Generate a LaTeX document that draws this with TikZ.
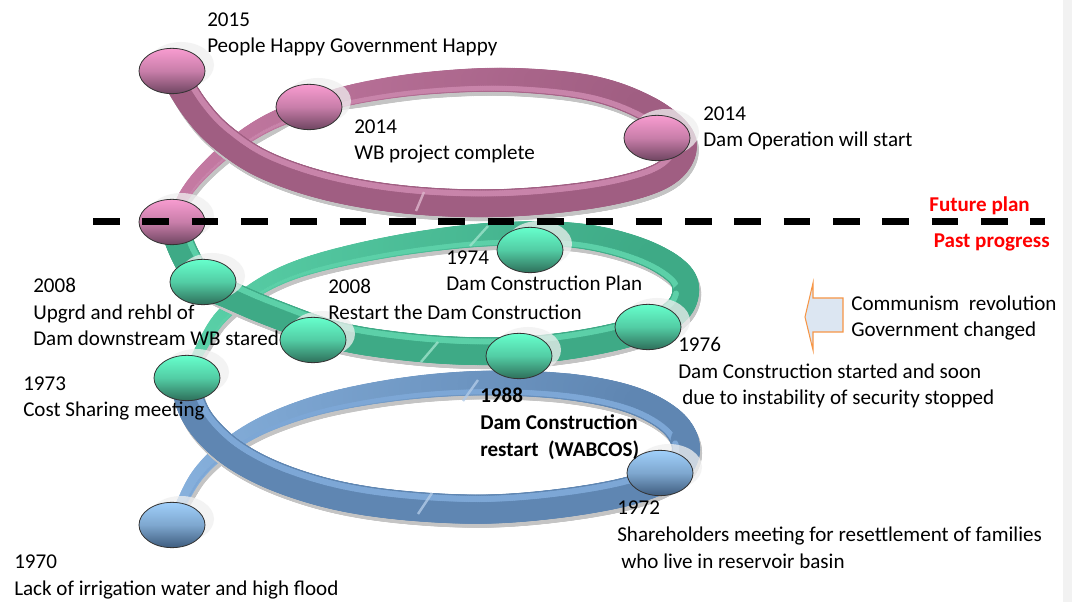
\documentclass[tikz,border=0pt]{standalone}
\usepackage{fontspec}
\setmainfont{Carlito}
\usetikzlibrary{decorations.markings,shapes.geometric}

\definecolor{pinkS}{HTML}{C87DA6}
\definecolor{pinkE}{HTML}{A05E82}
\definecolor{pinkL}{HTML}{C884AA}
\definecolor{pinkTop}{HTML}{F89CD0}
\definecolor{pinkBot}{HTML}{6F4561}
\definecolor{greenS}{HTML}{5CD4AB}
\definecolor{greenE}{HTML}{3EAA86}
\definecolor{greenL}{HTML}{5CD0A8}
\definecolor{greenTop}{HTML}{66FFCC}
\definecolor{greenBot}{HTML}{2E6F5A}
\definecolor{blueS}{HTML}{8AB4E0}
\definecolor{blueE}{HTML}{5F86B2}
\definecolor{blueL}{HTML}{7DA7D6}
\definecolor{blueTop}{HTML}{A0CFFA}
\definecolor{blueBot}{HTML}{3E5C7E}
\definecolor{bandshadow}{HTML}{C4C4C4}
\definecolor{arrowfill}{HTML}{DCE6F2}
\definecolor{arrowline}{HTML}{F79646}

\newcount\bandcount
\tikzset{
  bandpass/.style n args={8}{decorate,decoration={markings,
    mark=between positions #5 and #6 step 1.4pt with {%
      \global\advance\bandcount by 1
      \pgfmathsetmacro\bandf{#5+\the\bandcount*1.4/880}%
      \pgfmathsetmacro\bandr{#4-(#4-#3)*(1-\bandf)^4}%
      \pgfmathsetmacro\bandq{#7*\bandr}%
      \pgfmathsetmacro\bandy{#8*\bandr}%
      \pgfmathtruncatemacro\bandp{max(0,min(100,100-220*\bandf))}%
      \fill[#1!\bandp!#2] (0pt,\bandy pt) circle (\bandq pt);}}},
  disk/.style={ellipse, draw=black!80, line width=.6pt, minimum width=49.5pt,
    minimum height=34pt, inner sep=0pt},
  pinkdisk/.style={disk, top color=pinkTop, bottom color=pinkBot, middle color=pinkTop!65!pinkBot},
  greendisk/.style={disk, top color=greenTop, bottom color=greenBot, middle color=greenTop!65!greenBot},
  bluedisk/.style={disk, top color=blueTop, bottom color=blueBot, middle color=blueTop!65!blueBot},
  halo/.style={fill=gray!12, opacity=.75},
  seam/.style={line width=1.8pt, opacity=.8},
  event/.style={anchor=base west, inner sep=0pt, align=left,
    font=\fontsize{15.8}{20}\selectfont},
  redtag/.style={inner sep=0pt, text=red, font=\fontsize{15.8}{20}\selectfont\bfseries},
  splitline/.style={line width=5.25pt, dash pattern=on 20pt off 17pt},
}

% one turn of the spiral: shadow, body, inner edge
\newcommand\drawloop[5]{%
  \foreach \from/\to in {0.004/#4,#4/0.996} {
    \global\bandcount=0
    \path[shift={(2,4)}, bandpass={bandshadow}{bandshadow}{#2}{#3}{\from}{\to}{1}{0}] #5;
    \global\bandcount=0
    \path[bandpass={#1S}{#1E}{#2}{#3}{\from}{\to}{1}{0}] #5;
    \global\bandcount=0
    \path[bandpass={#1L}{#1L}{#2}{#3}{\from}{\to}{.22}{-.7}] #5;
  }}

\begin{document}
\begin{tikzpicture}[x=0.75pt,y=-0.75pt]
\useasboundingbox[fill=white] (0,0) rectangle (1072,602);
\fill[gray!10] (1063,0) rectangle (1072,602);

\coordinate (c2015) at (172,71);
\coordinate (cWB) at (309,107);
\coordinate (cOp) at (657,138);
\coordinate (cJ) at (172,222);
\coordinate (c1974) at (530,250);
\coordinate (cUp) at (203,282);
\coordinate (cRe) at (313,340);
\coordinate (c1976) at (648,327);
\coordinate (c1988) at (519,356);
\coordinate (c1973) at (187,378);
\coordinate (c1972) at (660,473);
\coordinate (c1970) at (172,525);

\drawloop{blue}{3.4}{11}{0.5}{plot[smooth,tension=.6] coordinates {(c1970) (183,500) (200,472)
  (228,446) (270,422) (330,402) (410,388) (490,383) (570,387) (632,400) (672,422) (686,448)
  (674,471) (636,489) (570,502) (490,509) (410,506) (340,496) (280,478) (235,455) (205,428)
  (190,402) (c1973)}}
\drawloop{green}{3.4}{10.5}{0.5}{plot[smooth,tension=.6] coordinates {(c1973) (200,350) (220,318)
  (250,293) (290,272) (345,256) (420,242) (500,234) (580,236) (643,252) (681,276) (683,302)
  (660,322) (610,338) (540,349) (470,351) (400,346) (335,335) (270,312) (230,295) (cUp)
  (185,255) (cJ)}}
\drawloop{pink}{3.6}{10.5}{0.5}{plot[smooth,tension=.6] coordinates {(cJ) (184,196) (203,172)
  (232,146) (268,123) (cWB) (360,93) (430,83) (510,80) (590,88) (646,108) (680,135) (679,160)
  (652,180) (590,195) (500,203) (410,200) (330,187) (265,165) (222,137) (195,108) (c2015)}}

\draw[seam, blueL!60!white] (463,401) -- (478,380);
\draw[seam, blueL!60!white] (418,514) -- (432,493);
\draw[seam, greenL!60!white] (470,246) -- (488,226);
\draw[seam, greenL!60!white] (421,362) -- (438,342);
\draw[seam, pinkL!60!white] (416,211) -- (424,192);

\foreach \c in {c2015,cWB,cOp,cJ,c1974,cUp,cRe,c1976,c1988,c1973,c1972,c1970}
  \fill[halo] ([shift={(9,-6)}]\c) ellipse (33 and 23);

\node[pinkdisk] (d2015) at (c2015) {};
\node[pinkdisk] (dWB) at (cWB) {};
\node[pinkdisk] (dOp) at (cOp) {};
\node[pinkdisk] (dJ) at (cJ) {};
\node[greendisk] (d1974) at (c1974) {};
\node[greendisk] (dUp) at (cUp) {};
\node[greendisk] (dRe) at (cRe) {};
\node[greendisk] (d1976) at (c1976) {};
\node[greendisk] (d1988) at (c1988) {};
\node[greendisk] (d1973) at (c1973) {};
\node[bluedisk] (d1972) at (c1972) {};
\node[bluedisk] (d1970) at (c1970) {};

\coordinate (dashL) at (93,222);
\coordinate (dashR) at (1045,222);
\draw[splitline] (dashL) -- (dashR);

\node[redtag, anchor=base east] (tFut) at (1030,212) {Future plan};
\node[redtag, anchor=base east] (tPast) at (1050,248) {Past progress};

\draw[arrowline, fill=arrowfill, line width=.8pt] (805,317) -- (813,283) -- (813,298) -- (843,298)
  -- (843,332) -- (813,332) -- (813,350) -- cycle;

% base of each text is the baseline of its last line
\node[event] (t2015) at (207,53) {2015\\People Happy Government Happy};
\node[event] (tWB) at (354,160) {2014\\WB project complete};
\node[event] (tOp) at (703,147) {2014\\Dam Operation will start};
\node[event] (t1974) at (446,291) {1974\\Dam Construction Plan};
\node[event] (tUp) at (33,346) {2008\\Upgrd and rehbl of\\Dam downstream WB stared};
\node[event] (tRe) at (328,320) {2008\\Restart the Dam Construction};
\node[event] (tCom) at (851,337) {Communism\ \ revolution\\Government changed};
\node[event] (t1976) at (678,405) {1976\\Dam Construction started and soon\\\hspace*{3pt}due to instability of security stopped};
\node[event] (t1973) at (23,417) {1973\\Cost Sharing meeting};
\node[event, font=\fontsize{15.8}{20}\selectfont\bfseries] (t1988) at (480,456) {1988\\Dam Construction\\restart\ \ (WABCOS)};
\node[event] (t1972) at (617,568) {1972\\Shareholders meeting for resettlement of families\\\hspace*{3pt}who live in reservoir basin};
\node[event] (t1970) at (14,595) {1970\\Lack of irrigation water and high flood};
\end{tikzpicture}
\end{document}
